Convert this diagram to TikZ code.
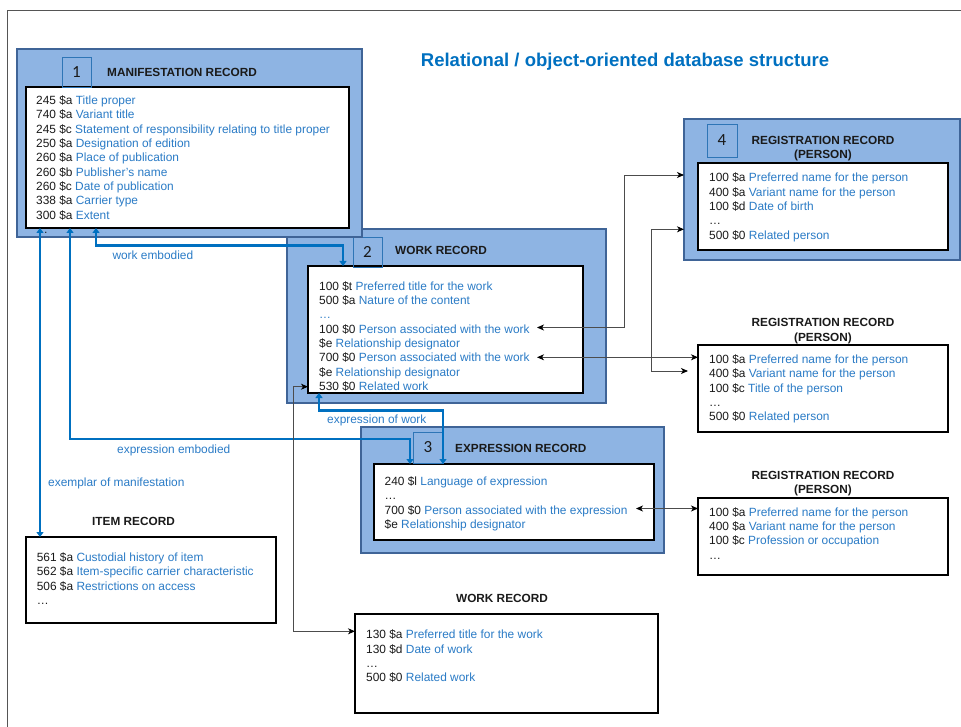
\documentclass[tikz,border=0pt]{standalone}
\usepackage{fontspec}
\setmainfont{Liberation Sans}
\newfontfamily\numfont{Carlito}
\usetikzlibrary{arrows.meta,calc}
\definecolor{outerfill}{HTML}{8EB4E3}
\definecolor{outerdraw}{HTML}{3F6497}
\definecolor{numdraw}{HTML}{2E75B6}
\definecolor{descc}{HTML}{2A7BC6}
\definecolor{linkc}{HTML}{0070C0}
\definecolor{codec}{HTML}{1A1A1A}
\definecolor{framec}{HTML}{555555}
\newcommand\recline[2]{\strut\textcolor{codec}{#1} \textcolor{descc}{#2}}
\newcommand\recdots{\strut\textcolor{codec}{\ldots}}
\begin{document}
\begin{tikzpicture}[x=1pt,y=-1pt,
  outerbox/.style={draw=outerdraw,line width=2pt,fill=outerfill,anchor=north west,inner sep=0pt,outer sep=0pt},
  innerbox/.style={draw=black,line width=1.8pt,fill=white,anchor=north west,inner sep=0pt,outer sep=0pt},
  numbox/.style={draw=numdraw,line width=0.9pt,anchor=north west,minimum width=29pt,minimum height=30pt,inner sep=0pt,outer sep=0pt,font=\numfont\fontsize{17}{17}\selectfont,text=codec},
  rectitle/.style={font=\bfseries\fontsize{11.8}{14.5}\selectfont,text=codec,anchor=base west,inner sep=0pt},
  regtitle/.style={font=\bfseries\fontsize{11.8}{14.5}\selectfont,text=codec,anchor=north,align=center,inner sep=0pt},
  plaintitle/.style={font=\bfseries\fontsize{11.8}{14.5}\selectfont,text=codec,anchor=base,inner sep=0pt},
  rectext/.style={font=\fontsize{11.9}{14.35}\selectfont,anchor=north west,inner sep=0pt,align=left},
  linklabel/.style={font=\fontsize{11.9}{14}\selectfont,text=descc,anchor=base west,inner sep=0pt},
  bluelink/.style={draw=linkc,line width=2.6pt,{Triangle[length=5pt,width=7pt]}-{Triangle[length=5pt,width=7pt]}},
  blacklink/.style={draw=black!70,line width=0.9pt,{Stealth[length=7pt,width=6pt,inset=2pt,color=black]}-{Stealth[length=7pt,width=6pt,inset=2pt,color=black]}}
]
\useasboundingbox (0,0) rectangle (961,727);
% frame
\draw[framec,line width=0.8pt] (7,727) -- (7,10) -- (961,10);
% title
\node[font=\bfseries\fontsize{18.5}{20}\selectfont,text=linkc,anchor=base,inner sep=0pt] (title) at (625,66.5) {Relational / object-oriented database structure};

% WORK RECORD (2)
\node[outerbox,minimum width=319pt,minimum height=174pt] (workO) at (287,229) {};
\node[innerbox,minimum width=275pt,minimum height=127pt] (workI) at (308,266) {};
\node[numbox] (n2) at (353,237) {2};
\node[rectitle] (workT) at (395,254.2) {WORK RECORD};
\node[rectext] (workX) at (319,280) {\recline{100 \$t}{Preferred title for the work}\\
 \recline{500 \$a}{Nature of the content}\\
 \strut\textcolor{descc}{\ldots}\\
 \recline{100 \$0}{Person associated with the work}\\
 \recline{\$e}{Relationship designator}\\
 \recline{700 \$0}{Person associated with the work}\\
 \recline{\$e}{Relationship designator}\\
 \recline{530 \$0}{Related work}};

% MANIFESTATION RECORD (1)
\node[outerbox,minimum width=345pt,minimum height=188pt] (manO) at (17,49) {};
\node[innerbox,minimum width=323pt,minimum height=141pt] (manI) at (26,87) {};
\node[numbox] (n1) at (62,57) {1};
\node[rectitle] (manT) at (107,76.2) {MANIFESTATION RECORD};
\node[rectext] (manX) at (36,94.3) {\recline{245 \$a}{Title proper}\\
 \recline{740 \$a}{Variant title}\\
 \recline{245 \$c}{Statement of responsibility relating to title proper}\\
 \recline{250 \$a}{Designation of edition}\\
 \recline{260 \$a}{Place of publication}\\
 \recline{260 \$b}{Publisher's name}\\
 \recline{260 \$c}{Date of publication}\\
 \recline{338 \$a}{Carrier type}\\
 \recline{300 \$a}{Extent}\\
 \recdots};

% EXPRESSION RECORD (3)
\node[outerbox,minimum width=303pt,minimum height=126pt] (expO) at (361,427) {};
\node[innerbox,minimum width=280pt,minimum height=76pt] (expI) at (374,464) {};
\node[numbox,minimum width=30pt,minimum height=31pt] (n3) at (413,432) {3};
\node[rectitle] (expT) at (455,452.2) {EXPRESSION RECORD};
\node[rectext] (expX) at (384.5,475.3) {\recline{240 \$l}{Language of expression}\\
 \recdots\\
 \recline{700 \$0}{Person associated with the expression}\\
 \recline{\$e}{Relationship designator}};

% REGISTRATION RECORD (4)
\node[outerbox,minimum width=276pt,minimum height=141pt] (reg4O) at (684,119) {};
\node[innerbox,minimum width=250pt,minimum height=87pt] (reg4I) at (698,163) {};
\node[numbox,minimum width=30pt,minimum height=33pt] (n4) at (707,124) {4};
\node[regtitle] (reg4T) at (823,133.8) {\strut REGISTRATION RECORD\\(PERSON)};
\node[rectext] (reg4X) at (709,171.6) {\recline{100 \$a}{Preferred name for the person}\\
 \recline{400 \$a}{Variant name for the person}\\
 \recline{100 \$d}{Date of birth}\\
 \recdots\\
 \recline{500 \$0}{Related person}};

% REGISTRATION RECORD (second)
\node[regtitle] (reg2T) at (823,316.2) {\strut REGISTRATION RECORD\\(PERSON)};
\node[innerbox,minimum width=250pt,minimum height=87pt] (reg2I) at (698,345) {};
\node[rectext] (reg2X) at (709,353.3) {\recline{100 \$a}{Preferred name for the person}\\
 \recline{400 \$a}{Variant name for the person}\\
 \recline{100 \$c}{Title of the person}\\
 \recdots\\
 \recline{500 \$0}{Related person}};

% REGISTRATION RECORD (third)
\node[regtitle] (reg3T) at (823,468.8) {\strut REGISTRATION RECORD\\(PERSON)};
\node[innerbox,minimum width=250pt,minimum height=77pt] (reg3I) at (698,498) {};
\node[rectext] (reg3X) at (709,506) {\recline{100 \$a}{Preferred name for the person}\\
 \recline{400 \$a}{Variant name for the person}\\
 \recline{100 \$c}{Profession or occupation}\\
 \recdots};

% ITEM RECORD
\node[plaintitle] (itemT) at (133.5,525.3) {ITEM RECORD};
\node[innerbox,minimum width=250pt,minimum height=86pt] (itemI) at (26,537) {};
\node[rectext] (itemX) at (36.6,551.3) {\recline{561 \$a}{Custodial history of item}\\
 \recline{562 \$a}{Item-specific carrier characteristic}\\
 \recline{506 \$a}{Restrictions on access}\\
 \recdots};

% WORK RECORD (related)
\node[plaintitle] (work2T) at (502,602.3) {WORK RECORD};
\node[innerbox,minimum width=303pt,minimum height=99pt] (work2I) at (355,614) {};
\node[rectext] (work2X) at (366,628.6) {\recline{130 \$a}{Preferred title for the work}\\
 \recline{130 \$d}{Date of work}\\
 \recdots\\
 \recline{500 \$0}{Related work}};

% helper coordinates
\coordinate (exm) at (40,0);
\coordinate (ee1) at (70,439);
\coordinate (ee2) at (410,439);
\coordinate (we1) at (96,245.5);
\coordinate (we2) at (343,245.5);
\coordinate (ew1) at (319,410.5);
\coordinate (ew2) at (443,410.5);
\coordinate (w100) at (537,327.5);
\coordinate (r4a) at (624,175);
\coordinate (w700) at (537,357.3);
\coordinate (r4b) at (651,229.3);
\coordinate (r2b) at (688,371);
\coordinate (e700) at (636,508.5);
\coordinate (rw1) at (293,386.7);
\coordinate (rw2) at (293,631.3);

% blue links
\draw[bluelink] (manI.south -| exm) -- (itemI.north -| exm);
\draw[bluelink] (manI.south -| ee1) -- (ee1) -- (ee2) -- (expI.north -| ee2);
\draw[bluelink] (manI.south -| we1) -- (we1) -- (we2) -- (workI.north -| we2);
\draw[bluelink] (workI.south -| ew1) -- (ew1) -- (ew2) -- (expI.north -| ew2);

% blue link labels
\node[linklabel] (lblwe) at (112.3,260) {work embodied};
\node[linklabel] (lblee) at (117,453) {expression embodied};
\node[linklabel] (lblex) at (48,486.5) {exemplar of manifestation};
\node[linklabel] (lblew) at (327,423.5) {expression of work};

% black links
\draw[blacklink] (w100) -| (r4a) -- (reg4O.west |- r4a);
\draw[blacklink] (w700) -- (reg2I.west |- w700);
\draw[blacklink] (reg4O.west |- r4b) -- (r4b) |- (r2b);
\draw[blacklink] (e700) -- (reg3I.west |- e700);
\draw[blacklink] (workI.west |- rw1) -- (rw1) -- (rw2) -- (work2I.west |- rw2);
\end{tikzpicture}
\end{document}
